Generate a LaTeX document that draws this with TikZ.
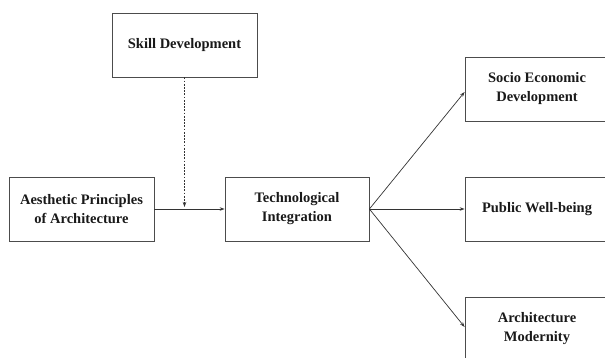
\documentclass[tikz,border=0pt]{standalone}
\usepackage{fontspec}
\setmainfont{Liberation Serif}
\usetikzlibrary{arrows.meta}
\begin{document}
\begin{tikzpicture}[x=1pt,y=-1pt,
  box/.style={draw=black!70, line width=0.8pt, minimum width=145pt, minimum height=64pt, align=center, inner sep=2pt, font=\fontsize{14.5}{19}\selectfont\bfseries, text=black!90},
  conn/.style={draw=black!80, line width=0.7pt, -{Stealth[length=5pt,width=3.5pt]}},
  dotconn/.style={conn, dash pattern=on 1.8pt off 1.4pt}]
\useasboundingbox (0,0) rectangle (605,358);
\clip (0,0) rectangle (605,358);
\node[box] (skill) at (184.5,45) {Skill Development};
\node[box] (aes) at (81.5,209) {Aesthetic Principles\\of Architecture};
\node[box, minimum width=144pt] (tech) at (297,209) {Technological\\Integration};
\node[box, minimum width=144pt] (socio) at (537,89) {Socio Economic\\Development};
\node[box, minimum width=144pt] (pub) at (537,209) {Public Well-being};
\node[box, minimum width=144pt] (arch) at (537,329) {Architecture\\Modernity};
\coordinate (join) at ([yshift=2pt]skill.south |- aes.east);
\draw[conn] (aes.east) -- (tech.west);
\draw[dotconn] (skill.south) -- (join);
\draw[conn] (tech.east) -- ([yshift=-3pt]socio.west);
\draw[conn] (tech.east) -- (pub.west);
\draw[conn] (tech.east) -- ([yshift=2pt]arch.west);
\end{tikzpicture}
\end{document}
